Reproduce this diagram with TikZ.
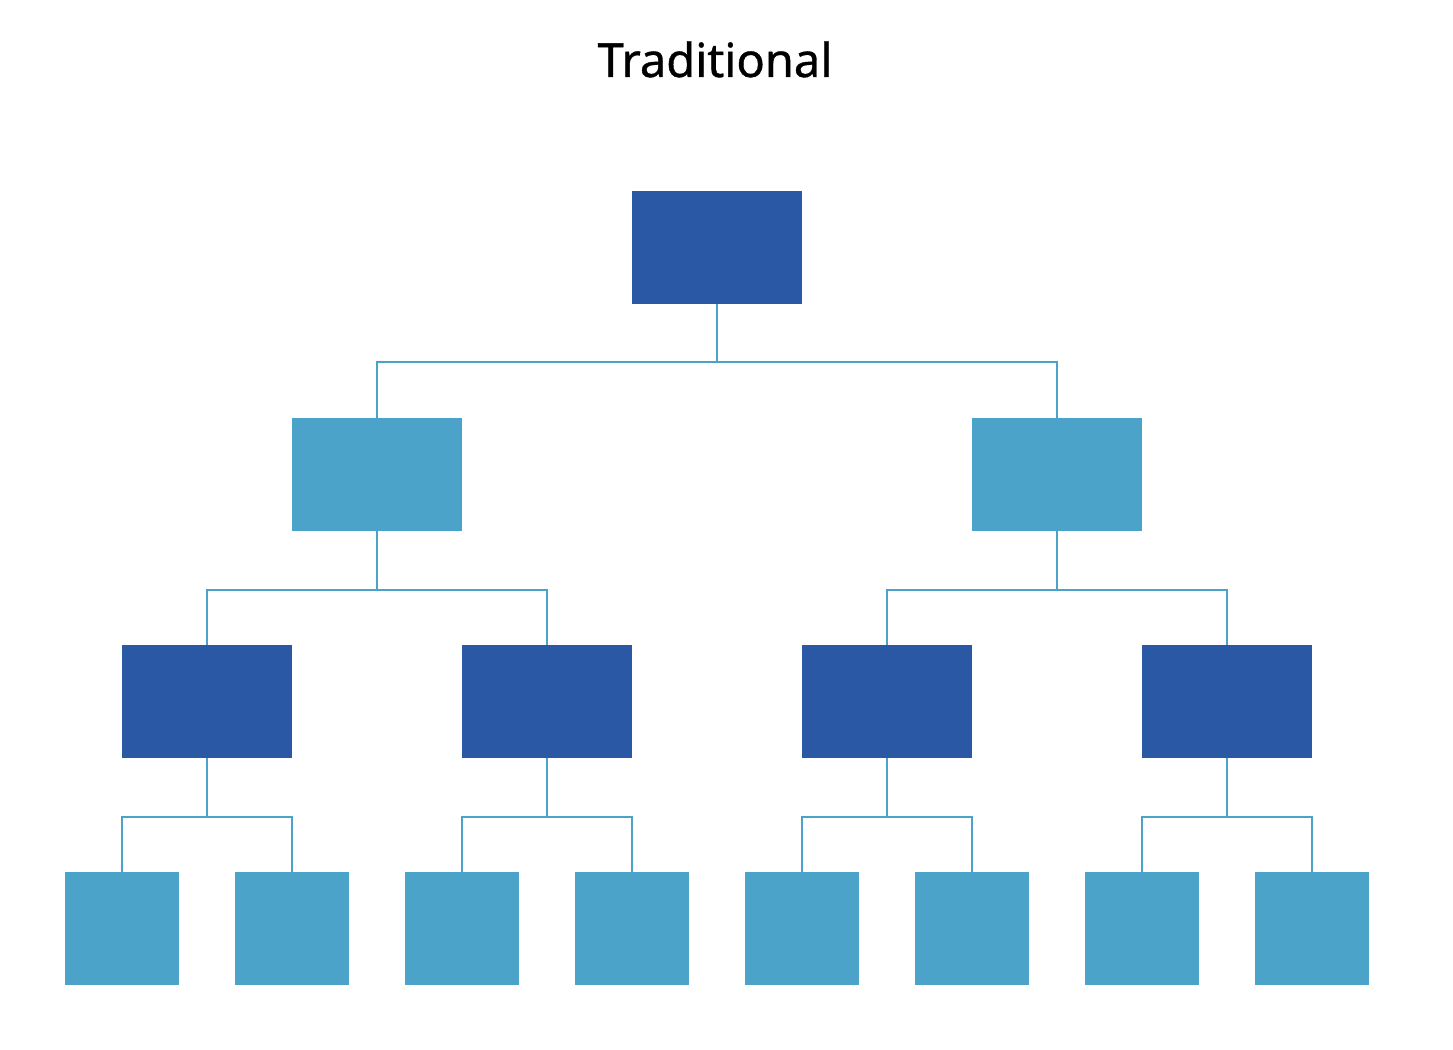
\documentclass[tikz,border=0pt]{standalone}
\usepackage{fontspec}
\setmainfont{Noto Sans}[FakeBold=0.8]
\definecolor{darkb}{HTML}{2B58A5}
\definecolor{lightb}{HTML}{4BA3CA}
\begin{document}
\begin{tikzpicture}[x=1pt,y=-1pt,
  boxd/.style={fill=darkb,draw=none,inner sep=0pt,minimum width=170pt,minimum height=113pt},
  boxl/.style={fill=lightb,draw=none,inner sep=0pt,minimum width=170pt,minimum height=113pt},
  leaf/.style={fill=lightb,draw=none,inner sep=0pt,minimum width=114pt,minimum height=113pt},
  conn/.style={draw=lightb,line width=2pt}]
\useasboundingbox[fill=white] (0,0) rectangle (1453,1049);
\node[font=\fontsize{47}{56}\selectfont,inner sep=0pt,anchor=base] (title) at (715,77) {Traditional};
\node[boxd] (r) at (717,247.5) {};
\node[boxl] (a) at (377,474.5) {};
\node[boxl] (b) at (1057,474.5) {};
\node[boxd] (a1) at (207,701.5) {};
\node[boxd] (a2) at (547,701.5) {};
\node[boxd] (b1) at (887,701.5) {};
\node[boxd] (b2) at (1227,701.5) {};
\node[leaf] (l1) at (122,928.5) {};
\node[leaf] (l2) at (292,928.5) {};
\node[leaf] (l3) at (462,928.5) {};
\node[leaf] (l4) at (632,928.5) {};
\node[leaf] (l5) at (802,928.5) {};
\node[leaf] (l6) at (972,928.5) {};
\node[leaf] (l7) at (1142,928.5) {};
\node[leaf] (l8) at (1312,928.5) {};
\foreach \p/\c/\y in {r/a/362,r/b/362,a/a1/590,a/a2/590,b/b1/590,b/b2/590,
  a1/l1/817,a1/l2/817,a2/l3/817,a2/l4/817,b1/l5/817,b1/l6/817,b2/l7/817,b2/l8/817}
  \draw[conn] (\p.south) -- (\p.south |- 0,\y) -| (\c.north);
\end{tikzpicture}
\end{document}
